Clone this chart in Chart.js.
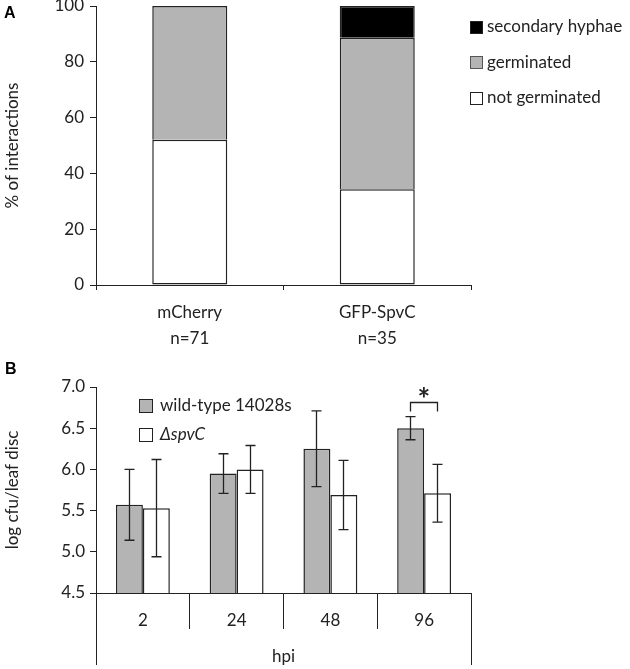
<!DOCTYPE html>
<html>
<head>
<meta charset="utf-8">
<script src="https://cdn.jsdelivr.net/npm/chart.js@4"></script>
<style>
  html, body { margin: 0; padding: 0; background: #fff; }
  #wrap { position: relative; width: 630px; height: 669px; overflow: hidden; }
  canvas { position: absolute; left: 0; }
  #chartA { top: 0; }
  #chartB { top: 350px; }
  .panel { position: absolute; font: bold 16px "Liberation Sans", Arial, sans-serif; color: #000; line-height: 16px; }
</style>
</head>
<body>
<div id="wrap">
  <canvas id="chartA" width="630" height="350" style="width:630px;height:350px"></canvas>
  <canvas id="chartB" width="630" height="319" style="width:630px;height:319px"></canvas>
  <div class="panel" style="left:4px;top:5px">A</div>
  <div class="panel" style="left:5px;top:361px">B</div>
</div>
<script>
// Panel A: % of interactions
const strainLabels = [['mCherry', 'n=71'], ['GFP-SpvC', 'n=35']];
const notGerminated = [52.1, 34.3];
const germinated = [47.9, 54.3];
const secondaryHyphae = [0, 11.4];
const pctTicks = [0, 20, 40, 60, 80, 100];

// Panel B: log cfu / leaf disc
const hpiLabels = ['2', '24', '48', '96'];
const wildType = [5.57, 5.95, 6.25, 6.50];
const wildTypeErr = [0.43, 0.24, 0.46, 0.14];
const spvC = [5.53, 6.00, 5.69, 5.71];
const spvCErr = [0.59, 0.29, 0.42, 0.35];
const significant = [3];

const INK = '#222';
const GREY = '#b4b4b4';
const FONT = 'Lato, "Open Sans", sans-serif';
const EDGE = 1.5;
const EDGE_TOP = { top: EDGE, left: EDGE, right: EDGE, bottom: 0 };

Chart.defaults.font.family = FONT;
Chart.defaults.font.size = 17;
Chart.defaults.color = INK;

const align = (p) => Math.round(p - 0.5) + 0.5;

// legend boxes drawn by hand (one item per dataset)
const boxLegend = {
  id: 'boxLegend',
  afterDraw(chart, args, opts) {
    const ctx = chart.ctx;
    ctx.save();
    opts.items.forEach((it, i) => {
      const ds = chart.data.datasets[it.dataset];
      const y = opts.y + i * opts.gap;
      const s = opts.size;
      const top = Math.round(y - s / 2);
      ctx.fillStyle = ds.backgroundColor;
      ctx.fillRect(opts.x, top, s, s);
      ctx.strokeStyle = it.edge || INK;
      ctx.lineWidth = 1;
      ctx.strokeRect(opts.x + 0.5, top + 0.5, s - 1, s - 1);
      ctx.font = (it.italic ? 'italic ' : '') + '17px ' + FONT;
      ctx.fillStyle = INK;
      ctx.textBaseline = 'middle';
      ctx.fillText(ds.label, opts.x + s + opts.textGap, y);
    });
    ctx.restore();
  }
};

// error bars + significance bracket + long outer axis lines
const extras = {
  id: 'extras',
  afterDatasetsDraw(chart, args, opts) {
    const ctx = chart.ctx;
    const yS = chart.scales.y;
    ctx.save();
    ctx.strokeStyle = INK;
    ctx.lineWidth = 1.3;
    chart.data.datasets.forEach((ds, di) => {
      const meta = chart.getDatasetMeta(di);
      meta.data.forEach((bar, i) => {
        const v = ds.data[i], e = ds.errors[i];
        const x = align(bar.x);
        const y1 = yS.getPixelForValue(v + e), y2 = yS.getPixelForValue(v - e);
        ctx.beginPath();
        ctx.moveTo(x, y1); ctx.lineTo(x, y2);
        ctx.moveTo(x - 5, y1); ctx.lineTo(x + 5, y1);
        ctx.moveTo(x - 5, y2); ctx.lineTo(x + 5, y2);
        ctx.stroke();
      });
    });
    significant.forEach((i) => {
      const m0 = chart.getDatasetMeta(0).data[i];
      const m1 = chart.getDatasetMeta(1).data[i];
      const d0 = chart.data.datasets[0], d1 = chart.data.datasets[1];
      const top = Math.min(yS.getPixelForValue(d0.data[i] + d0.errors[i]),
                           yS.getPixelForValue(d1.data[i] + d1.errors[i]));
      const by = Math.round(top - 15) + 0.5;
      const x0 = align(m0.x), x1 = align(m1.x);
      ctx.beginPath();
      ctx.moveTo(x0, by + 9); ctx.lineTo(x0, by); ctx.lineTo(x1, by); ctx.lineTo(x1, by + 9);
      ctx.stroke();
      ctx.fillStyle = INK;
      ctx.font = 'bold 30px ' + FONT;
      ctx.textAlign = 'center';
      ctx.textBaseline = 'alphabetic';
      ctx.fillText('*', (x0 + x1) / 2, by + 7);
    });
    const a = chart.chartArea;
    ctx.lineWidth = 1;
    ctx.beginPath();
    ctx.moveTo(align(a.left), a.bottom); ctx.lineTo(align(a.left), opts.bottom);
    ctx.moveTo(align(a.right), a.bottom); ctx.lineTo(align(a.right), opts.bottom);
    ctx.stroke();
    ctx.restore();
  }
};

new Chart(document.getElementById('chartA'), {
  type: 'bar',
  data: {
    labels: strainLabels,
    datasets: [
      { label: 'not germinated', data: notGerminated, backgroundColor: '#ffffff', borderWidth: EDGE },
      { label: 'germinated', data: germinated, backgroundColor: GREY, borderWidth: EDGE_TOP },
      { label: 'secondary hyphae', data: secondaryHyphae, backgroundColor: '#000000', borderWidth: EDGE_TOP }
    ]
  },
  options: {
    responsive: false,
    animation: false,
    devicePixelRatio: 1,
    layout: { padding: { left: 0, right: 159, top: 6, bottom: 0 } },
    datasets: { bar: { borderColor: INK, borderSkipped: false, barPercentage: 0.4, categoryPercentage: 1 } },
    plugins: {
      legend: { display: false },
      tooltip: { enabled: false },
      boxLegend: {
        x: 470, y: 27, gap: 35.5, size: 13, textGap: 4,
        items: [{ dataset: 2 }, { dataset: 1, edge: '#555' }, { dataset: 0 }]
      }
    },
    scales: {
      x: {
        stacked: true,
        grid: { offset: true, drawOnChartArea: false, tickLength: 5, color: INK },
        border: { color: INK },
        ticks: { padding: 10, font: { size: 17, lineHeight: 1.5 }, color: INK },
        afterFit: (s) => { s.height = 65; s.paddingLeft = 0; s.paddingRight = 0; }
      },
      y: {
        stacked: true,
        min: 0, max: 100,
        afterBuildTicks: (s) => { s.ticks = pctTicks.map((v) => ({ value: v })); },
        grid: { drawOnChartArea: false, tickLength: 6, color: INK },
        border: { color: INK },
        ticks: { padding: 6, color: INK },
        title: { display: true, text: '% of interactions', padding: { top: 2, bottom: 0 }, color: INK },
        afterFit: (s) => { s.width = 96; s.paddingTop = 0; s.paddingBottom = 0; }
      }
    }
  },
  plugins: [boxLegend]
});

new Chart(document.getElementById('chartB'), {
  type: 'bar',
  data: {
    labels: hpiLabels,
    datasets: [
      { label: 'wild-type 14028s', data: wildType, errors: wildTypeErr, backgroundColor: GREY },
      { label: 'ΔspvC', data: spvC, errors: spvCErr, backgroundColor: '#ffffff' }
    ]
  },
  options: {
    responsive: false,
    animation: false,
    devicePixelRatio: 1,
    layout: { padding: { left: 0, right: 159, top: 37, bottom: 0 } },
    datasets: { bar: { borderColor: INK, borderWidth: EDGE, borderSkipped: false, barPercentage: 1, categoryPercentage: 0.575 } },
    plugins: {
      legend: { display: false },
      tooltip: { enabled: false },
      boxLegend: {
        x: 139, y: 56, gap: 28.5, size: 14, textGap: 7,
        items: [{ dataset: 0 }, { dataset: 1, italic: true }]
      },
      extras: { bottom: 315 }
    },
    scales: {
      x: {
        grid: { offset: true, drawOnChartArea: false, tickLength: 36, color: INK },
        border: { color: INK },
        ticks: { padding: -19, color: INK },
        title: { display: true, text: 'hpi', padding: { top: 0, bottom: 2 }, color: INK },
        afterFit: (s) => { s.height = 76; s.paddingLeft = 0; s.paddingRight = 0; }
      },
      y: {
        min: 4.5, max: 7.0,
        ticks: { stepSize: 0.5, padding: 5, color: INK, callback: (v) => v.toFixed(1) },
        grid: { drawOnChartArea: false, tickLength: 6, color: INK },
        border: { color: INK },
        title: { display: true, text: 'log cfu/leaf disc', padding: { top: 2, bottom: 0 }, color: INK },
        afterFit: (s) => { s.width = 96; }
      }
    }
  },
  plugins: [boxLegend, extras]
});
</script>
</body>
</html>
